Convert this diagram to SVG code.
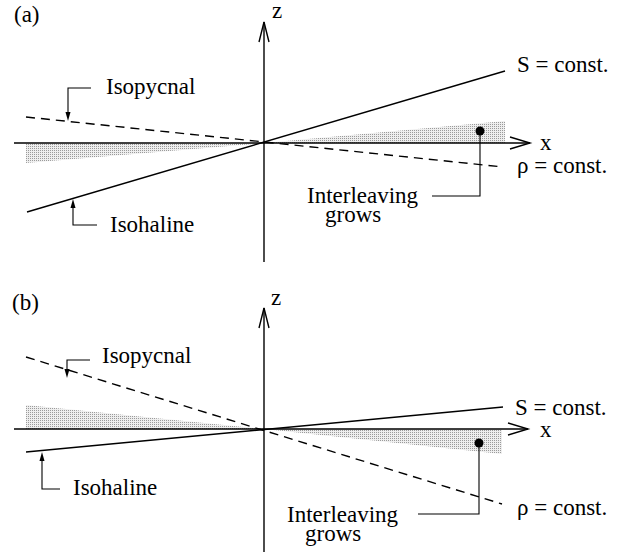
<svg xmlns="http://www.w3.org/2000/svg" width="626" height="552" viewBox="0 0 626 552">
<style>
text{font-family:"Liberation Serif","Times New Roman",serif;font-size:23px;fill:#000}
.ax{stroke:#000;stroke-width:1.4;fill:none}
.ln{stroke:#000;stroke-width:1.4;fill:none}
.ds{stroke:#000;stroke-width:1.4;fill:none;stroke-dasharray:9 6}
.ld{stroke:#000;stroke-width:1.1;fill:none}
.sh{fill:url(#stip)}
</style>
<defs>
<pattern id="stip" width="2" height="2" patternUnits="userSpaceOnUse">
<rect width="2" height="2" fill="#eeeeee"/>
<rect width="1" height="1" fill="#9a9a9a"/>
</pattern>
</defs>
<g id="panel-a">
<g id="a-shade">
<polygon class="sh" points="26,143 264,143 26,163"/>
<polygon class="sh" points="264,143 505,143 505,121"/>
</g>
<g id="a-axes">
<line class="ax" x1="264" y1="262" x2="264" y2="22"/>
<polyline class="ax" points="259,42 264,22 269,42"/>
<line class="ax" x1="14" y1="143" x2="530" y2="143"/>
<polyline class="ax" points="510,137 530,143 510,149"/>
<text x="272" y="18">z</text>
<text x="540" y="150">x</text>
<text x="14" y="22">(a)</text>
</g>
<g id="a-isohaline">
<line class="ln" x1="27" y1="212" x2="505" y2="71"/>
<text x="517" y="72">S = const.</text>
</g>
<g id="a-isopycnal">
<line class="ds" x1="26" y1="117" x2="503" y2="167"/>
<text x="517" y="173">ρ = const.</text>
</g>
<g id="a-label-isopycnal">
<polyline class="ld" points="91,88 68,88 68,114"/>
<polygon points="65.5,112 70.5,112 68,121"/>
<text x="106" y="94">Isopycnal</text>
</g>
<g id="a-label-isohaline">
<polyline class="ld" points="97,225 73,225 73,206"/>
<polygon points="70.5,208 75.5,208 73,199"/>
<text x="110" y="232">Isohaline</text>
</g>
<g id="a-interleaving">
<circle cx="480" cy="131" r="4.5"/>
<polyline class="ld" points="480,131 480,196 432,196"/>
<text x="307" y="203">Interleaving</text>
<text x="325" y="222">grows</text>
</g>
</g>
<g id="panel-b">
<g id="b-shade">
<polygon class="sh" points="26,405 264,429 26,429"/>
<polygon class="sh" points="264,429 502,429 502,454"/>
</g>
<g id="b-axes">
<line class="ax" x1="264" y1="552" x2="264" y2="308"/>
<polyline class="ax" points="259,328 264,308 269,328"/>
<line class="ax" x1="14" y1="429" x2="528" y2="429"/>
<polyline class="ax" points="508,423 528,429 508,435"/>
<text x="271" y="305">z</text>
<text x="540" y="437">x</text>
<text x="12" y="310">(b)</text>
</g>
<g id="b-isohaline">
<line class="ln" x1="26" y1="452" x2="503" y2="407"/>
<text x="515" y="415">S = const.</text>
</g>
<g id="b-isopycnal">
<line class="ds" x1="26" y1="357" x2="502" y2="504"/>
<text x="517" y="515">ρ = const.</text>
</g>
<g id="b-label-isopycnal">
<polyline class="ld" points="90,360 67,360 67,370"/>
<polygon points="64.5,369 69.5,369 67,378"/>
<text x="102" y="363">Isopycnal</text>
</g>
<g id="b-label-isohaline">
<polyline class="ld" points="60,489 42,489 42,459"/>
<polygon points="39.5,461 44.5,461 42,452"/>
<text x="73" y="495">Isohaline</text>
</g>
<g id="b-interleaving">
<circle cx="479" cy="443" r="4.5"/>
<polyline class="ld" points="479,443 479,514 418,514"/>
<text x="287" y="522">Interleaving</text>
<text x="305" y="541">grows</text>
</g>
</g>
</svg>
